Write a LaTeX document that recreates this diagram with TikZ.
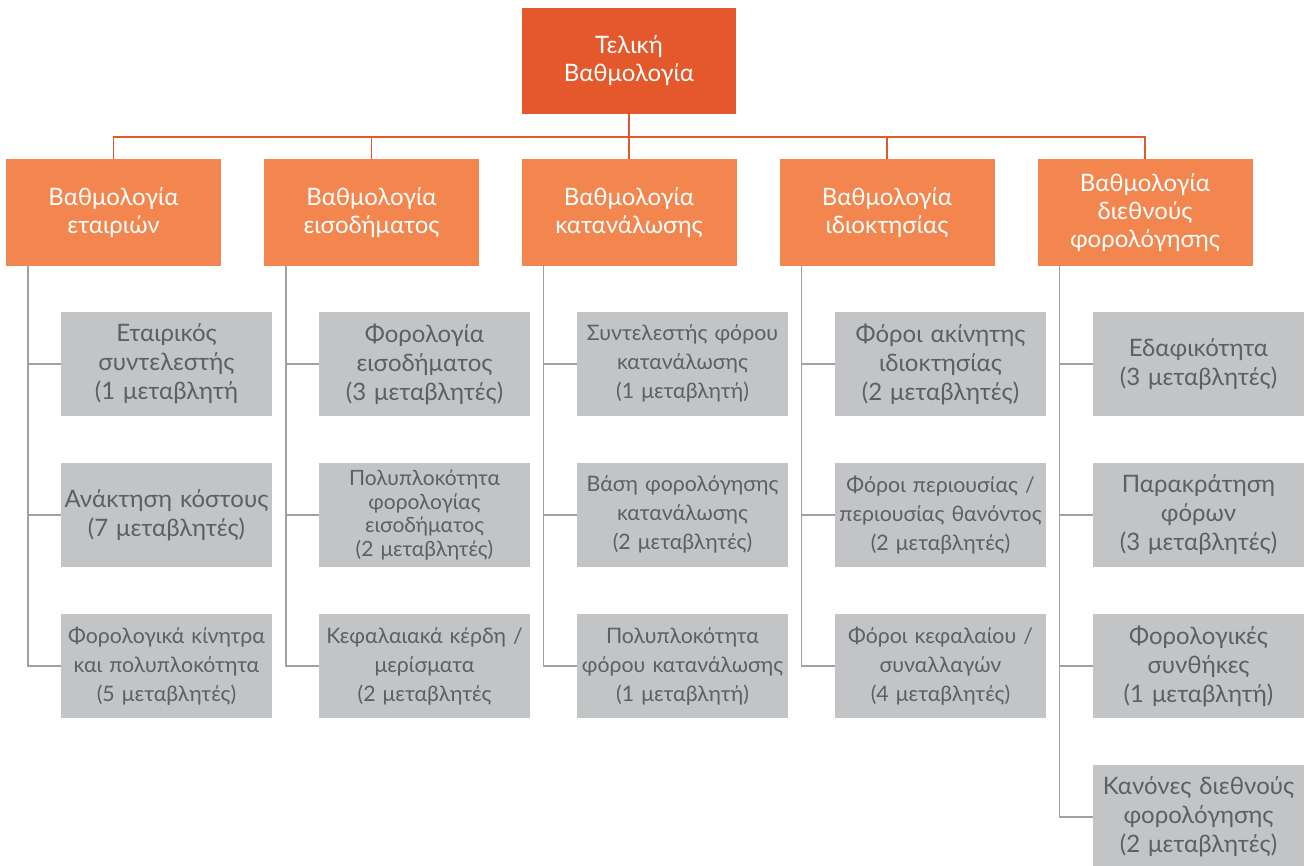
\documentclass[tikz,border=0pt]{standalone}
\usepackage{fontspec}
\setmainfont{Lato}
\definecolor{topc}{HTML}{E5582B}
\definecolor{midc}{HTML}{F3864F}
\definecolor{boxg}{HTML}{C2C4C5}
\definecolor{txtg}{HTML}{5E5F61}
\definecolor{lineg}{HTML}{A0A1A3}
\begin{document}
\begin{tikzpicture}[x=1pt,y=-1pt,
  topbox/.style={fill=topc,text=white,minimum width=214pt,minimum height=106pt,align=center,inner sep=0pt,font=\fontsize{24}{28}\selectfont},
  midbox/.style={fill=midc,text=white,minimum width=215pt,minimum height=107pt,align=center,inner sep=0pt,font=\fontsize{24}{28}\selectfont},
  subbox/.style={fill=boxg,text=txtg,text width=211pt,minimum height=104pt,align=center,inner sep=0pt,font=\fontsize{24}{29}\selectfont},
  fittxt/.style={font=\fontsize{21.3}{29}\selectfont},
  smalltxt/.style={font=\fontsize{21}{23.5}\selectfont},
  redl/.style={draw=topc,line width=1.6pt},
  grayl/.style={draw=lineg,line width=1.6pt}]
\useasboundingbox (0,0) rectangle (1308,866);
\node[topbox] (t) at (629,61) {Τελική\\Βαθμολογία};
\node[midbox] (b1) at (113.5,212.5) {Βαθμολογία\\εταιριών};
\node[midbox] (b2) at (371.5,212.5) {Βαθμολογία\\εισοδήματος};
\node[midbox] (b3) at (629,212.5) {Βαθμολογία\\κατανάλωσης};
\node[midbox] (b4) at (887,212.5) {Βαθμολογία\\ιδιοκτησίας};
\node[midbox] (b5) at (1145,212.5) {Βαθμολογία\\διεθνούς\\φορολόγησης};
\foreach \i in {1,...,5}{\draw[redl] (t.south) -- ++(0,23) -| (b\i.north);}
% column 1
\node[subbox] (c11) at (166.5,364) {Εταιρικός\\συντελεστής\\(1 μεταβλητή};
\node[subbox] (c12) at (166.5,515) {Ανάκτηση κόστους\\(7 μεταβλητές)};
\node[subbox,fittxt] (c13) at (166.5,666) {Φορολογικά κίνητρα\\και πολυπλοκότητα\\(5 μεταβλητές)};
% column 2
\node[subbox] (c21) at (424.5,364) {Φορολογία\\εισοδήματος\\(3 μεταβλητές)};
\node[subbox,smalltxt] (c22) at (424.5,515) {Πολυπλοκότητα\\φορολογίας\\εισοδήματος\\(2 μεταβλητές)};
\node[subbox,fittxt] (c23) at (424.5,666) {Κεφαλαιακά κέρδη /\\μερίσματα\\(2 μεταβλητές};
% column 3
\node[subbox,fittxt] (c31) at (682.5,364) {Συντελεστής φόρου\\κατανάλωσης\\(1 μεταβλητή)};
\node[subbox,fittxt] (c32) at (682.5,515) {Βάση φορολόγησης\\κατανάλωσης\\(2 μεταβλητές)};
\node[subbox,fittxt] (c33) at (682.5,666) {Πολυπλοκότητα\\φόρου κατανάλωσης\\(1 μεταβλητή)};
% column 4
\node[subbox] (c41) at (940.5,364) {Φόροι ακίνητης\\ιδιοκτησίας\\(2 μεταβλητές)};
\node[subbox,fittxt] (c42) at (940.5,515) {Φόροι περιουσίας /\\περιουσίας θανόντος\\(2 μεταβλητές)};
\node[subbox,fittxt] (c43) at (940.5,666) {Φόροι κεφαλαίου /\\συναλλαγών\\(4 μεταβλητές)};
% column 5
\node[subbox] (c51) at (1198.5,364) {Εδαφικότητα\\(3 μεταβλητές)};
\node[subbox] (c52) at (1198.5,515) {Παρακράτηση\\φόρων\\(3 μεταβλητές)};
\node[subbox] (c53) at (1198.5,666) {Φορολογικές\\συνθήκες\\(1 μεταβλητή)};
\node[subbox] (c54) at (1198.5,817) {Κανόνες διεθνούς\\φορολόγησης\\(2 μεταβλητές)};
\foreach \c in {1,...,4}{
  \foreach \r in {1,2,3}{\draw[grayl] ([xshift=22pt]b\c.south west) |- (c\c\r.west);}
}
\foreach \r in {1,2,3,4}{\draw[grayl] ([xshift=22pt]b5.south west) |- (c5\r.west);}
\end{tikzpicture}
\end{document}
